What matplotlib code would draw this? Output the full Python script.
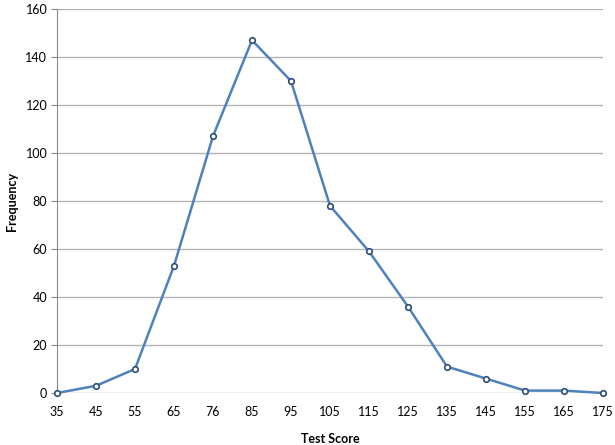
import matplotlib
matplotlib.use("Agg")
import matplotlib.pyplot as plt

scores = ["35", "45", "55", "65", "76", "85", "95", "105", "115", "125", "135", "145", "155", "165", "175"]
frequency = [0, 3, 10, 53, 107, 147, 130, 78, 59, 36, 11, 6, 1, 1, 0]
y_ticks = [0, 20, 40, 60, 80, 100, 120, 140, 160]

plt.rcParams['font.family'] = ['Lato', 'DejaVu Sans']

fig = plt.figure(figsize=(6.15, 4.45), dpi=100)
ax = fig.add_axes([57/615, 1-393/445, (603-57)/615, (393-9)/445])

x = list(range(len(scores)))
ax.plot(x, frequency, color="#4F81BD", lw=1.8, marker="o", markersize=4,
        markerfacecolor="white", markeredgecolor="#2C4D75", markeredgewidth=1.2, zorder=3, clip_on=False)

ax.set_xlim(0, len(scores)-1)
ax.set_ylim(0, 160)
ax.set_xticks(x)
ax.set_xticklabels(scores)
ax.set_yticks(y_ticks)
ax.grid(axis='y', color="#B3B3B3", lw=1)
ax.set_axisbelow(True)
for s in ["top", "right", "bottom"]:
    ax.spines[s].set_visible(False)
ax.spines["left"].set_color("#888888")
ax.tick_params(axis='x', length=0, pad=9, labelsize=9)
ax.tick_params(axis='y', length=4, color="#888888", pad=3, labelsize=9)
ax.set_xlabel("Test Score", fontweight="bold", fontsize=9, labelpad=11)
ax.set_ylabel("Frequency", fontweight="bold", fontsize=9, labelpad=5)

fig.savefig("out.png", dpi=100)
